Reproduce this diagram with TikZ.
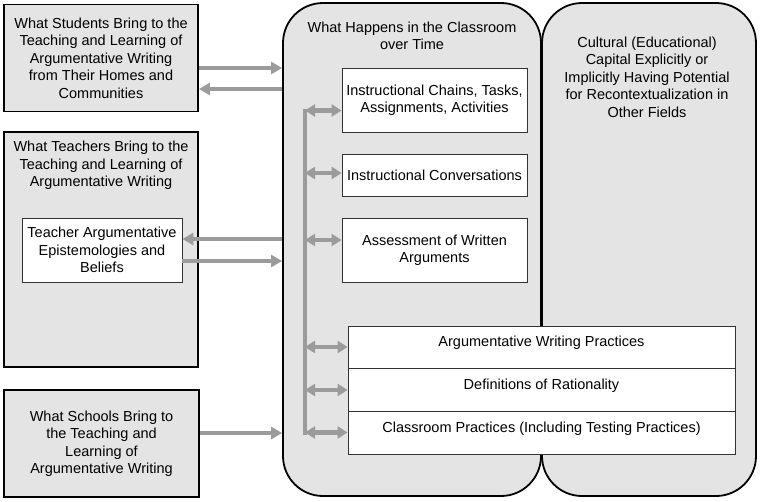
\documentclass[tikz,border=0pt]{standalone}
\usepackage{fontspec}
\setmainfont{Liberation Sans}
\usetikzlibrary{arrows.meta}
\definecolor{boxgray}{HTML}{E4E4E4}
\definecolor{arrgray}{HTML}{9B9B9B}
\begin{document}
\begin{tikzpicture}[x=1pt,y=-1pt,
  outer/.style={draw=black, line width=1.8pt, fill=boxgray, inner sep=0pt, align=center,
    font=\fontsize{14.5}{17.5}\selectfont},
  roundbox/.style={outer, rounded corners=40pt},
  inner/.style={draw=black!80, line width=0.9pt, fill=white, inner sep=0pt, align=center,
    font=\fontsize{14.5}{17.5}\selectfont},
  stackbox/.style={inner, minimum width=387pt, text height=10.5pt, text depth=11pt},
  txt/.style={align=center, font=\fontsize{14.5}{17.5}\selectfont, inner sep=0pt},
  conn/.style={draw=arrgray, line width=4.5pt, -{Triangle[length=11pt,width=12pt]}},
  conn2/.style={draw=arrgray, line width=4.5pt,
    {Triangle[length=10pt,width=12pt]}-{Triangle[length=10pt,width=12pt]}},
  vline/.style={draw=arrgray, line width=4.5pt},
]
\useasboundingbox (0,0) rectangle (760,501);

% left column
\node[outer, minimum width=194pt, minimum height=107pt] (stud) at (101,58)
  {What Students Bring to the\\Teaching and Learning of\\Argumentative Writing\\from Their Homes and\\Communities};
\node[outer, minimum width=194pt, minimum height=235pt] (teach) at (101,249.5) {};
\node[txt] (teacht) at (101,165.5)
  {What Teachers Bring to the\\Teaching and Learning of\\Argumentative Writing};
\node[inner, minimum width=160pt, minimum height=64pt] (epist) at (102,250)
  {Teacher Argumentative\\Epistemologies and\\Beliefs};
\node[outer, minimum width=195pt, minimum height=107pt] (school) at (101.5,443.5)
  {What Schools Bring to\\the Teaching and\\Learning of\\Argumentative Writing};

% rounded columns
\node[roundbox, minimum width=258pt, minimum height=493pt] (mid) at (412,249.5) {};
\node[txt] (midt) at (412,36) {What Happens in the Classroom\\over Time};
\node[roundbox, minimum width=214pt, minimum height=493pt] (cap) at (649,249.5) {};
\node[txt] (capt) at (647,77)
  {Cultural (Educational)\\Capital Explicitly or\\Implicitly Having Potential\\for Recontextualization in\\Other Fields};

% inner boxes of the middle column
\node[inner, minimum width=185pt, minimum height=64pt] (chains) at (434.5,100)
  {Instructional Chains, Tasks,\\Assignments, Activities};
\node[inner, minimum width=185pt, minimum height=42pt] (conv) at (434.5,175)
  {Instructional Conversations};
\node[inner, minimum width=185pt, minimum height=64pt] (assess) at (434.5,250)
  {Assessment of Written\\Arguments};

\node[stackbox, minimum height=42pt] (awp) at (541.5,347) {Argumentative Writing Practices};
\node[stackbox, minimum height=43pt] (rat) at (541.5,389.5) {Definitions of Rationality};
\node[stackbox, minimum height=43pt] (cp) at (541.5,432.5) {Classroom Practices (Including Testing Practices)};

% connectors between columns
\draw[conn] (stud.east |- 0,68) -- (mid.west |- 0,68);
\draw[conn] (mid.west |- 0,89) -- (stud.east |- 0,89);
\draw[conn] (mid.west |- 0,239) -- (epist.east |- 0,239);
\draw[conn] (epist.east |- 0,261) -- (mid.west |- 0,261);
\draw[conn] (school.east |- 0,433) -- (mid.west |- 0,433);

% vertical distribution line
\coordinate (vt) at (305,108.5);
\coordinate (vb) at (305,434.5);
\draw[vline] (vt) -- (vb);
\coordinate (v1) at (305,110.5);
\coordinate (v2) at (305,173);
\coordinate (v3) at (305,240);
\coordinate (v4) at (305,347);
\coordinate (v5) at (305,390);
\coordinate (v6) at (305,432.5);
\draw[conn2] (v1) -- (chains.west |- v1);
\draw[conn2] (v2) -- (conv.west |- v2);
\draw[conn2] (v3) -- (assess.west |- v3);
\draw[conn2] (v4) -- (awp.west |- v4);
\draw[conn2] (v5) -- (rat.west |- v5);
\draw[conn2] (v6) -- (cp.west |- v6);
\end{tikzpicture}
\end{document}
